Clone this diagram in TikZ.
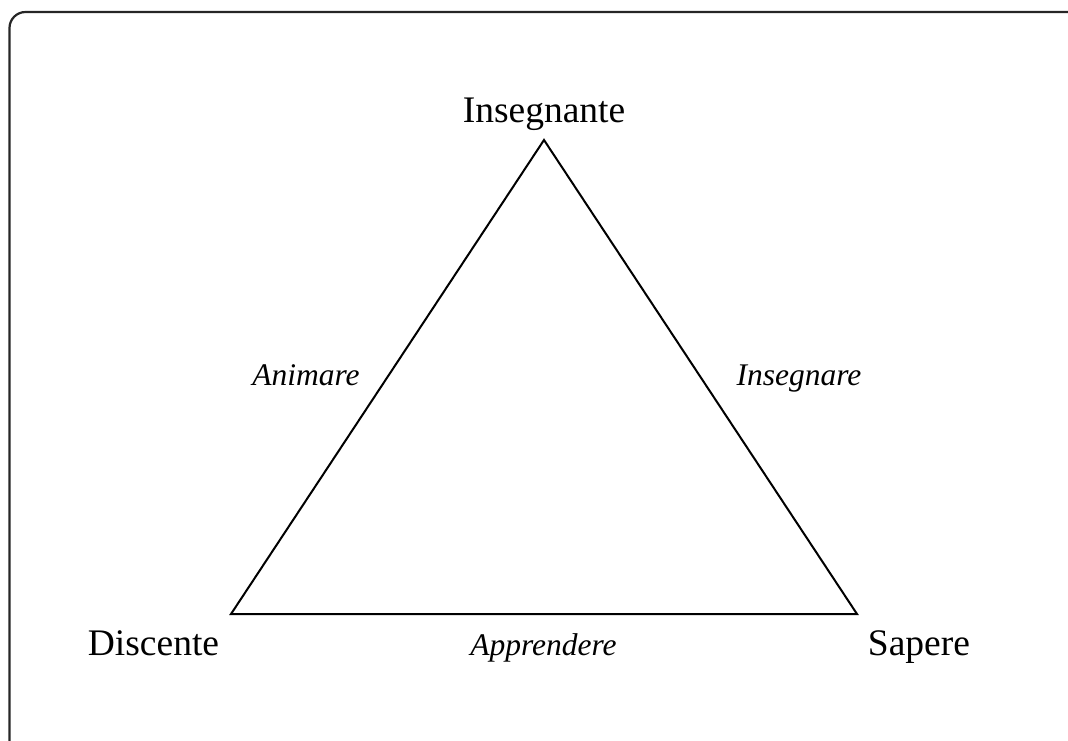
\documentclass[tikz,border=0pt]{standalone}
\usepackage{fontspec}
\setmainfont{Liberation Serif}
\begin{document}
\begin{tikzpicture}[x=1pt,y=-1pt,
  vertexlabel/.style={inner sep=0pt,anchor=base,font=\fontsize{37.5}{44}\selectfont},
  sidelabel/.style={inner sep=0pt,anchor=base,font=\fontsize{31.5}{38}\selectfont\itshape},
  edge/.style={line width=2pt,line join=miter}]
\useasboundingbox (0,0) rectangle (1068,740);
% frame, running off the right and bottom edges
\begin{scope}
\clip (0,0) rectangle (1068,740);
\draw[line width=2.2pt,black!85,rounded corners=16pt] (9.5,12) rectangle (1090,760);
\end{scope}
% corners of the triangle
\coordinate (T) at (544,140);
\coordinate (L) at (231,614);
\coordinate (R) at (857,614);
\draw[edge] (T) -- (L) -- (R) -- cycle;
% vertex names
\node[vertexlabel] (ins) at (544,122) {Insegnante};
\node[vertexlabel] (dis) at (153.5,655) {Discente};
\node[vertexlabel] (sap) at (919,655) {Sapere};
% side names
\node[sidelabel] (ani) at (306,385) {Animare};
\node[sidelabel] (inr) at (799,385) {Insegnare};
\node[sidelabel] (app) at (543.5,655) {Apprendere};
\end{tikzpicture}
\end{document}
